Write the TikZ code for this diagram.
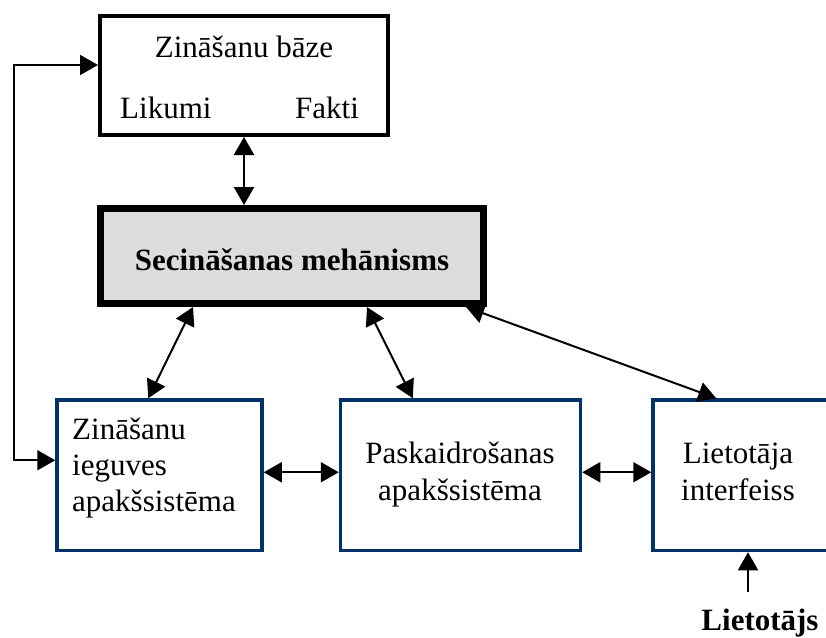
\documentclass[tikz,border=0pt]{standalone}
\usepackage{fontspec}
\setmainfont{Liberation Serif}
\usetikzlibrary{arrows.meta,calc}
\definecolor{boxblue}{RGB}{0,50,105}
\definecolor{smgray}{RGB}{220,220,220}
\begin{document}
\begin{tikzpicture}[x=1pt,y=-1pt,
  txt/.style={font=\fontsize{31}{36}\selectfont, inner sep=0pt},
  btxt/.style={font=\fontsize{31}{36}\selectfont\bfseries, inner sep=0pt},
  kbbox/.style={draw=black, line width=4pt, minimum width=288pt, minimum height=119pt, inner sep=0pt},
  smbox/.style={draw=black, fill=smgray, line width=7pt, minimum width=383pt, minimum height=95pt, inner sep=0pt},
  subbox/.style={draw=boxblue, line width=3.5pt, minimum height=150.5pt, inner sep=0pt},
  tip/.tip={Triangle[length=18pt,width=20pt]},
  arr/.style={line width=2pt, tip-tip},
  arrone/.style={line width=2pt, -tip}
]
\clip (0,0) rectangle (826,637);
% boxes
\node[kbbox] (kb) at (244,75.5) {};
\node[smbox] (sm) at (292,256) {};
\node[subbox, minimum width=205pt] (za) at (159.5,475.25) {};
\node[subbox, minimum width=240pt] (pa) at (460.5,475.25) {};
\node[subbox, minimum width=192pt] (li) at (749,475.25) {};
% texts
\node[txt, anchor=base] (kbt) at (244,57) {Zināšanu bāze};
\node[txt, anchor=base west] (kbl) at (120,118) {Likumi};
\node[txt, anchor=base west] (kbf) at (295,118) {Fakti};
\node[btxt, anchor=base] (smt) at (292,270) {Secināšanas mehānisms};
\node[txt, anchor=base west] (za1) at (72,439) {Zināšanu};
\node[txt, anchor=base west] (za2) at (72,475) {ieguves};
\node[txt, anchor=base west] (za3) at (72,511) {apakšsistēma};
\node[txt, anchor=base] (pa1) at (460,463) {Paskaidrošanas};
\node[txt, anchor=base] (pa2) at (460,500) {apakšsistēma};
\node[txt, anchor=base] (li1) at (738,463) {Lietotāja};
\node[txt, anchor=base] (li2) at (738,500) {interfeiss};
\node[btxt, anchor=base] (lu) at (760,630) {Lietotājs};
% connectors
\draw[line width=2.5pt, tip-tip] (kb.south) -- (kb.south |- sm.north);
\draw[line width=1.8pt, tip-tip] ([yshift=15pt]za.west) -| (14,65) -- ([yshift=10.5pt]kb.west);
\draw[arr] ([xshift=96pt]sm.south west) -- ([xshift=93pt]za.north west);
\draw[arr] ([xshift=270pt]sm.south west) -- ([xshift=74pt]pa.north west);
\draw[arr] ([xshift=369pt]sm.south west) -- ([xshift=65pt]li.north west);
\draw[arr] ([yshift=3pt]za.east) -- ([yshift=3pt]pa.west);
\draw[arr] ([yshift=3pt]pa.east) -- ([yshift=3pt]li.west);
\coordinate (lt) at (748,592);
\draw[arrone] (lt) -- (lt |- li.south);
\end{tikzpicture}
\end{document}
